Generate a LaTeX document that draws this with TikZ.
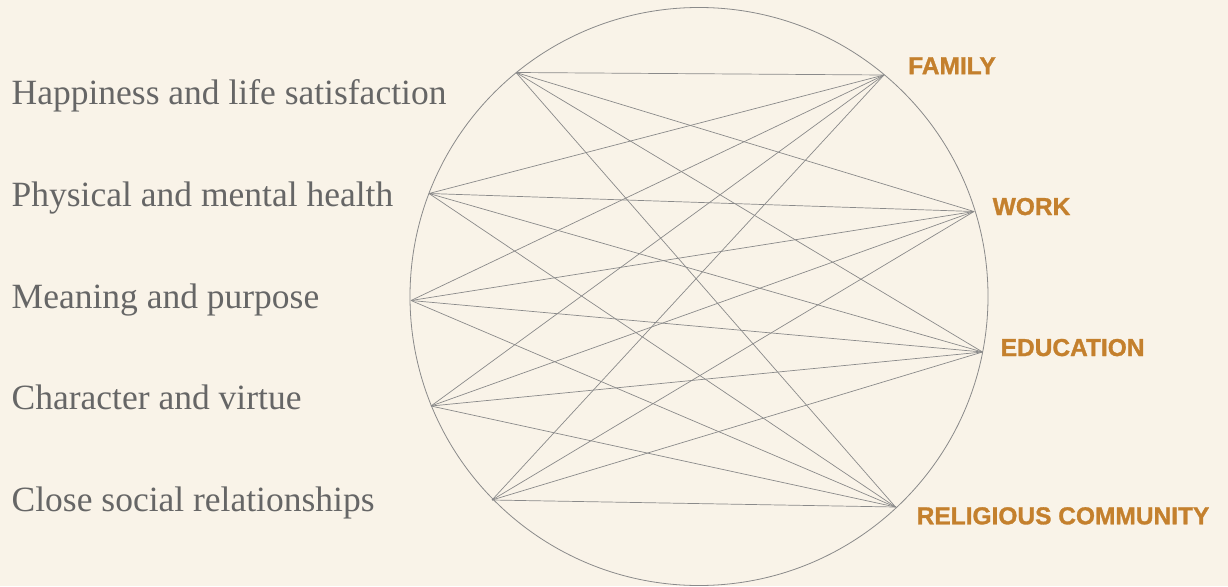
\documentclass[tikz,border=0pt]{standalone}
\usepackage{fontspec}
\setmainfont{Liberation Serif}
\newfontfamily\labelsans[FakeBold=1.2]{Liberation Sans Bold}
\definecolor{paper}{HTML}{F9F3E8}
\definecolor{ink}{HTML}{666666}
\definecolor{ochre}{HTML}{C4802D}
\definecolor{wire}{HTML}{8A8A8A}
\begin{document}
\begin{tikzpicture}[x=1pt,y=-1pt,
  outcome/.style={anchor=base west,inner sep=0pt,text=ink,font=\fontsize{35.5}{40}\selectfont},
  sphere/.style={anchor=base west,inner sep=0pt,text=ochre,font=\labelsans\fontsize{24.5}{28}\selectfont},
  link/.style={draw=wire,line width=0.7pt},
  rim/.style={draw=wire,line width=0.8pt}]
  % page and background
  \fill[paper] (0,0) rectangle (1228,586);
  \useasboundingbox (0,0) rectangle (1228,586);

  % the ring
  \draw[rim] (699,296.5) circle (289);

  % anchor points on the ring: outcomes on the left, spheres of life on the right
  \coordinate (l1) at (516,72.5);
  \coordinate (l2) at (429,193.5);
  \coordinate (l3) at (411,300.5);
  \coordinate (l4) at (431,406);
  \coordinate (l5) at (492,500);
  \coordinate (fam) at (884,75);
  \coordinate (wrk) at (974,211.5);
  \coordinate (edu) at (982.5,352);
  \coordinate (rel) at (895.5,507);

  % every outcome is tied to every sphere
  \foreach \a in {l1,l2,l3,l4,l5}{
    \foreach \b in {fam,wrk,edu,rel}{
      \draw[link] (\a) -- (\b);
    }
  }

  % outcome labels
  \node[outcome] (t1) at (11.5,104.5) {Happiness and life satisfaction};
  \node[outcome] (t2) at (11.5,206.2) {Physical and mental health};
  \node[outcome] (t3) at (11.5,308) {Meaning and purpose};
  \node[outcome] (t4) at (11.5,409.8) {Character and virtue};
  \node[outcome] (t5) at (11.5,511.5) {Close social relationships};

  % sphere labels
  \node[sphere] (d1) at (908,74.2) {FAMILY};
  \node[sphere] (d2) at (992.5,215) {WORK};
  \node[sphere] (d3) at (1000.5,356) {EDUCATION};
  \node[sphere] (d4) at (916.5,524.3) {RELIGIOUS COMMUNITY};
\end{tikzpicture}
\end{document}
